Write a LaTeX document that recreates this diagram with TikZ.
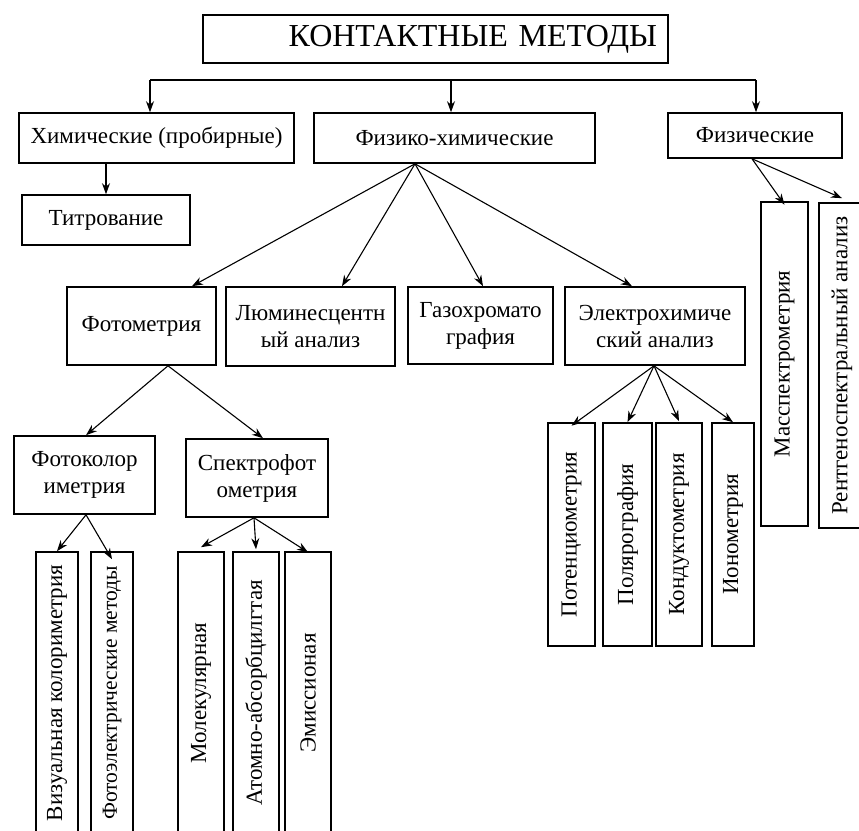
\documentclass[tikz,border=0pt]{standalone}
\usepackage{fontspec}
\setmainfont{Liberation Serif}
\usetikzlibrary{arrows.meta}
\begin{document}
\begin{tikzpicture}[x=1pt,y=-1pt,
  box/.style={draw,line width=1.6pt,inner sep=0pt,align=center,
    font=\fontsize{23}{27}\selectfont},
  vbox/.style={box,rotate=90},
  arr/.style={line width=1.1pt,-{Stealth[length=11pt,width=8pt]}},
  bus/.style={line width=1.3pt}]
\clip (0,0) rectangle (859,830);
\fill[white] (0,0) rectangle (859,830);

% top level
\node[box,minimum width=465pt,minimum height=48pt,text width=443pt,inner xsep=11pt,align=right,
  font=\fontsize{32}{36}\selectfont] (top) at (435.5,39) {КОНТАКТНЫЕ МЕТОДЫ};

\node[box,minimum width=275pt,minimum height=50pt] (chem) at (156.5,138) {Химические (пробирные)};
\node[box,minimum width=281pt,minimum height=50pt] (physchem) at (454.5,138) {Физико-химические};
\node[box,minimum width=174pt,minimum height=45pt] (phys) at (755,135.5) {Физические};
\node[box,minimum width=168pt,minimum height=50pt] (titr) at (106,220) {Титрование};

% physico-chemical branch
\node[box,minimum width=149pt,minimum height=78pt] (photom) at (141.5,326) {Фотометрия};
\node[box,minimum width=169pt,minimum height=79pt] (lumin) at (310.5,326.5) {Люминесцентн\\ый анализ};
\node[box,minimum width=145pt,minimum height=77pt] (gaz) at (480.5,325.5) {Газохромато\\графия};
\node[box,minimum width=180pt,minimum height=78pt] (electro) at (655,326) {Электрохимиче\\ский анализ};

\node[box,minimum width=141pt,minimum height=78pt] (pcol) at (84.5,475) {Фотоколор\\иметрия};
\node[box,minimum width=142pt,minimum height=78pt] (spec) at (257,478) {Спектрофот\\ометрия};

% vertical boxes (rotated: width <-> height)
\node[vbox,minimum width=282pt,minimum height=42pt] (vis) at (57,693) {Визуальная колориметрия};
\node[vbox,minimum width=282pt,minimum height=42pt,font=\fontsize{21.5}{27}\selectfont] (photoel) at (112,693) {Фотоэлектрические методы};
\node[vbox,minimum width=282pt,minimum height=46pt] (molek) at (201,693) {Молекулярная};
\node[vbox,minimum width=282pt,minimum height=46pt] (atom) at (256,693) {Атомно-абсорбцилгтая};
\node[vbox,minimum width=282pt,minimum height=46pt] (emis) at (308,693) {Эмиссионая};

\node[vbox,minimum width=223pt,minimum height=47pt] (potent) at (571.5,534.5) {Потенциометрия};
\node[vbox,minimum width=223pt,minimum height=49pt] (polar) at (627.5,534.5) {Полярография};
\node[vbox,minimum width=223pt,minimum height=46pt] (kond) at (679,534.5) {Кондуктометрия};
\node[vbox,minimum width=223pt,minimum height=42pt] (ion) at (733,534.5) {Ионометрия};

\node[vbox,minimum width=324pt,minimum height=47pt] (mass) at (784.5,364) {Масспектрометрия};
\node[vbox,minimum width=325pt,minimum height=46pt] (rent) at (842,365.5) {Рентгеноспектральный анализ};

% distribution line under the title
\coordinate (busL) at (150,80);
\coordinate (busM) at (451,80);
\coordinate (busR) at (756,80);
\draw[bus] (busL) -- (busR);
\draw[arr] (busL) -- (busL |- chem.north);
\draw[arr] (busM) -- (busM |- physchem.north);
\draw[arr] (busR) -- (busR |- phys.north);

\draw[arr] (titr.north |- chem.south) -- (titr.north);

% fans
\coordinate (pc) at ([xshift=-39.5pt]physchem.south);
\draw[arr] (pc) -- ([xshift=50.5pt]photom.north);
\draw[arr] (pc) -- ([xshift=31.5pt]lumin.north);
\draw[arr] (pc) -- ([xshift=2.5pt]gaz.north);
\draw[arr] (pc) -- ([xshift=-23pt]electro.north);

\coordinate (ph) at ([xshift=26.5pt]photom.south);
\draw[arr] (ph) -- ([xshift=1.5pt]pcol.north);
\draw[arr] (ph) -- ([xshift=6pt]spec.north);

\coordinate (pk) at ([xshift=1.5pt]pcol.south);
\draw[arr] (pk) -- (vis.east);
\draw[arr] (pk) -- ([yshift=-8pt]photoel.east);

\coordinate (sp) at ([xshift=-3pt]spec.south);
\draw[arr] (sp) -- ([yshift=4pt]molek.east);
\draw[arr] (sp) -- ([yshift=2pt]atom.east);
\draw[arr] (sp) -- ([yshift=-1pt]emis.east);

\coordinate (el) at ([xshift=-1pt]electro.south);
\draw[arr] (el) -- ([yshift=-3.5pt]potent.east);
\draw[arr] (el) -- (polar.east);
\draw[arr] (el) -- ([yshift=1pt]kond.east);
\draw[arr] (el) -- (ion.east);

\coordinate (py) at ([xshift=-3pt]phys.south);
\draw[arr] (py) -- ([yshift=-3.5pt]mass.east);
\draw[arr] (py) -- ([yshift=4pt]rent.east);
\end{tikzpicture}
\end{document}
